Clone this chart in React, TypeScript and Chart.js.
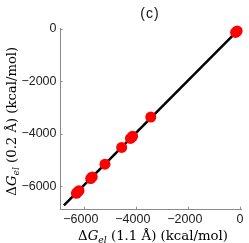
import { useEffect, useRef } from "react";
import { Chart, registerables } from "chart.js";

Chart.register(...registerables);

// ---- data ----
const pointX = [-6290, -6240, -6190, -5740, -5680, -5190, -4550, -4210, -4130, -3430, -170, -110];
const pointY = [-6270, -6220, -6170, -5710, -5650, -5165, -4525, -4185, -4100, -3370, -150, -95];
const lineX = [-6770, -130];
const lineY = [-6730, -120];
const xTicks = [-6000, -4000, -2000, 0];
const yTicks = [-6000, -4000, -2000, 0];
const xRange = [-6920, 65];
const yRange = [-6880, 0];
const panelLabel = "(c)";
const xTitleParts = ["Δ", "G", "el", " (1.1 Å) (kcal/mol)"];
const yTitleParts = ["Δ", "G", "el", " (0.2 Å) (kcal/mol)"];

const SERIF = '"DejaVu Serif", serif';
const AXIS_GRAY = "#8a8a8a";

function mathParts(parts: string[], size: number) {
  return [
    { text: parts[0], font: `${size}px ${SERIF}`, dy: 0 },
    { text: parts[1], font: `italic ${size}px ${SERIF}`, dy: 0 },
    { text: parts[2], font: `italic ${size * 0.7}px ${SERIF}`, dy: size * 0.25 },
    { text: parts[3], font: `${size}px ${SERIF}`, dy: 0 },
  ];
}

function measure(ctx: CanvasRenderingContext2D, parts: string[], size: number) {
  let w = 0;
  for (const p of mathParts(parts, size)) {
    ctx.font = p.font;
    w += ctx.measureText(p.text).width;
  }
  return w;
}

function drawMath(
  ctx: CanvasRenderingContext2D,
  parts: string[],
  targetWidth: number,
  cx: number,
  baseline: number,
  rotate: boolean
) {
  const base = 13;
  const size = (base * targetWidth) / measure(ctx, parts, base);
  const total = measure(ctx, parts, size);
  ctx.save();
  ctx.translate(cx, baseline);
  if (rotate) ctx.rotate(-Math.PI / 2);
  ctx.fillStyle = "#000";
  ctx.textAlign = "left";
  ctx.textBaseline = "alphabetic";
  let x = -total / 2;
  for (const p of mathParts(parts, size)) {
    ctx.font = p.font;
    ctx.fillText(p.text, x, p.dy);
    x += ctx.measureText(p.text).width;
  }
  ctx.restore();
}

const decorPlugin = {
  id: "decor",
  afterDraw(chart: any) {
    const { ctx, chartArea, scales } = chart;
    ctx.save();
    // inward tick marks
    ctx.strokeStyle = AXIS_GRAY;
    ctx.lineWidth = 1;
    for (const t of scales.x.ticks) {
      const px = Math.round(scales.x.getPixelForValue(t.value)) + 0.5;
      ctx.beginPath();
      ctx.moveTo(px, chartArea.bottom);
      ctx.lineTo(px, chartArea.bottom - 2.5);
      ctx.stroke();
    }
    for (const t of scales.y.ticks) {
      const py = Math.round(scales.y.getPixelForValue(t.value)) + 0.5;
      ctx.beginPath();
      ctx.moveTo(chartArea.left, py);
      ctx.lineTo(chartArea.left + 2.5, py);
      ctx.stroke();
    }
    // panel label
    ctx.fillStyle = "#111";
    ctx.font = '14px "Liberation Sans", sans-serif';
    (ctx as any).letterSpacing = "1px";
    ctx.textAlign = "center";
    ctx.textBaseline = "middle";
    ctx.fillText(panelLabel, 150, 14);
    (ctx as any).letterSpacing = "0px";
    ctx.restore();
    // axis titles
    drawMath(ctx, xTitleParts, 150, 153, 239.5, false);
    drawMath(ctx, yTitleParts, 149, 15.5, 121.2, true);
  },
};

export default function App() {
  const ref = useRef<HTMLCanvasElement>(null);

  useEffect(() => {
    if (!ref.current) return;
    const points = pointX.map((x, i) => ({ x, y: pointY[i] }));
    const line = lineX.map((x, i) => ({ x, y: lineY[i] }));
    const tickFont = { family: '"Liberation Sans", Arial, sans-serif', size: 12.5 };
    const chart = new Chart(ref.current, {
      type: "scatter",
      data: {
        datasets: [
          {
            data: points,
            pointRadius: 5.5,
            pointBackgroundColor: "#ff0000",
            pointBorderWidth: 0,
            backgroundColor: "#ff0000",
            borderWidth: 0,
            clip: false as any,
            order: 0,
          },
          {
            data: line,
            showLine: true,
            pointRadius: 0,
            borderColor: "#000000",
            borderWidth: 2.5,
            clip: false as any,
            order: 1,
          } as any,
        ],
      },
      options: {
        animation: false,
        responsive: false,
        events: [],
        layout: { padding: { top: 28.5, right: 7.3, left: 0, bottom: 0 } },
        plugins: { legend: { display: false }, tooltip: { enabled: false }, title: { display: false } },
        scales: {
          x: {
            type: "linear",
            min: xRange[0],
            max: xRange[1],
            afterBuildTicks: (s: any) => {
              s.ticks = xTicks.map((v) => ({ value: v }));
            },
            afterFit: (s: any) => {
              s.height = 243 - 209.3;
            },
            grid: { display: false, drawTicks: false },
            border: { display: true, color: AXIS_GRAY, width: 1 },
            ticks: {
              padding: 3,
              color: "#222",
              font: tickFont,
              maxRotation: 0,
              autoSkip: false,
              callback: (v: any) => (v === 0 ? "0" : "\u2212" + Math.abs(v) + "\u2002"),
            },
          },
          y: {
            type: "linear",
            min: yRange[0],
            max: yRange[1],
            afterBuildTicks: (s: any) => {
              s.ticks = yTicks.map((v) => ({ value: v }));
            },
            afterFit: (s: any) => {
              s.width = 60;
            },
            grid: { display: false, drawTicks: false },
            border: { display: true, color: AXIS_GRAY, width: 1 },
            ticks: {
              padding: 3.5,
              color: "#222",
              font: tickFont,
              autoSkip: false,
              callback: (v: any) => (v === 0 ? "0" : "\u2212" + Math.abs(v)),
            },
          },
        },
      },
      plugins: [decorPlugin],
    });
    return () => chart.destroy();
  }, []);

  return (
    <div style={{ position: "absolute", left: 0, top: 0, width: 249, height: 243, background: "#fff" }}>
      <canvas ref={ref} width={249} height={243} style={{ display: "block", width: 249, height: 243 }} />
    </div>
  );
}
